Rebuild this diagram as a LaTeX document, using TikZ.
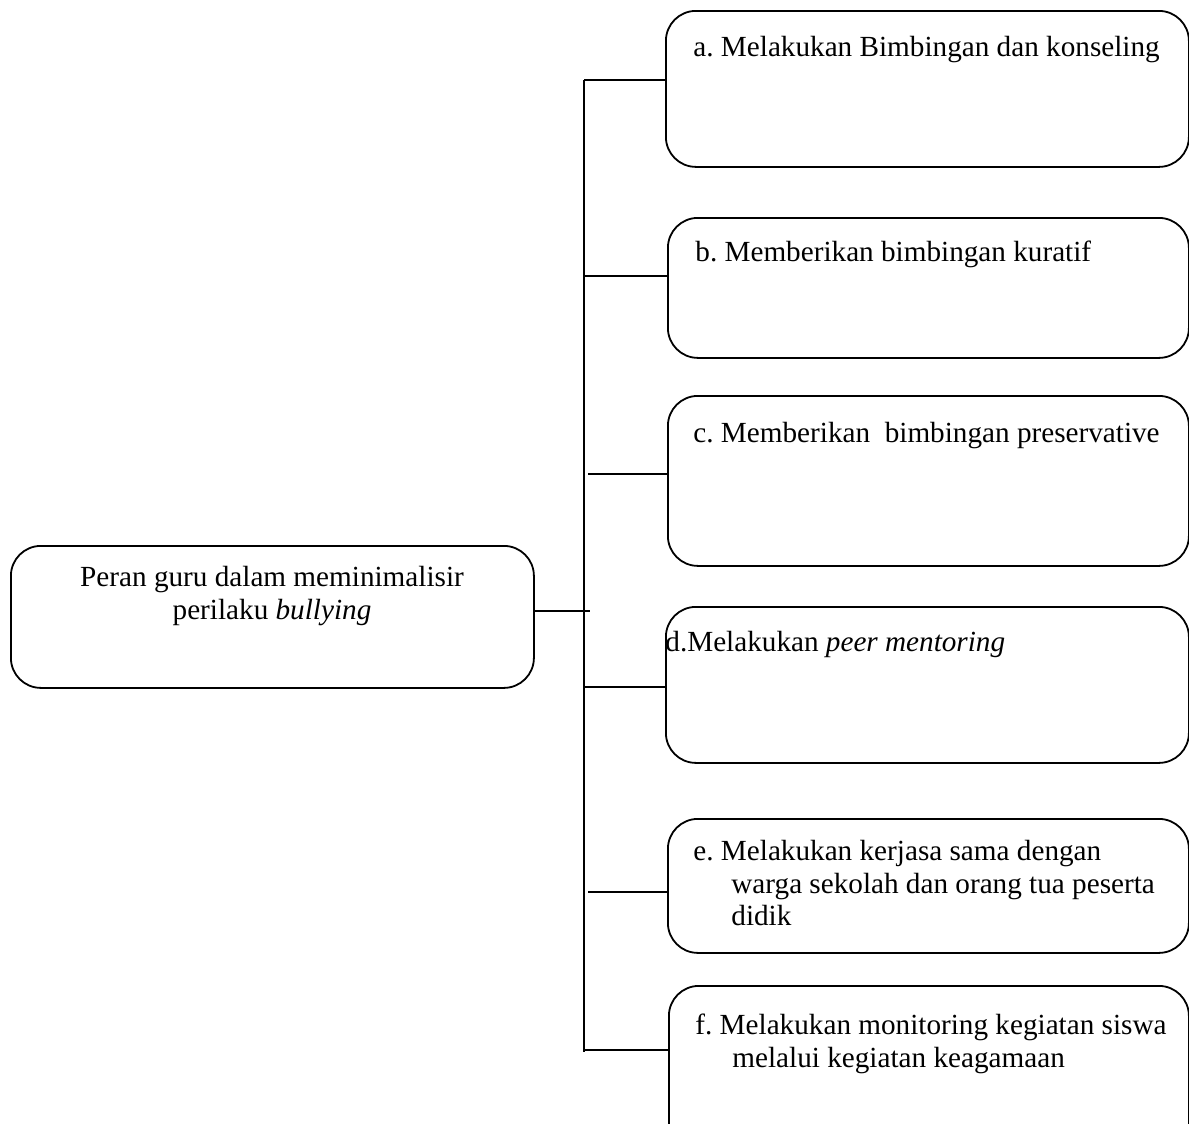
\documentclass[tikz,border=0pt]{standalone}
\usepackage{fontspec}
\setmainfont{Liberation Serif}
\usetikzlibrary{positioning}
\frenchspacing
\tikzset{
  kotak/.style={draw, rounded corners=15pt, line width=0.9pt, inner sep=0pt,
                anchor=north west},
  teks/.style={inner sep=0pt, align=left, font=\fontsize{14.6}{16.2}\selectfont},
  garis/.style={line width=0.9pt}
}

\begin{document}
\begin{tikzpicture}[x=0.5pt, y=-0.5pt]
    \useasboundingbox (0,0) rectangle (1189,1124);
    \clip (0,0) rectangle (1189,1124);
    % kotak utama
    \node[kotak, minimum width=261.5pt, minimum height=71pt] (peran) at (10,545) {};
    \node[teks, align=center, anchor=north] (tperan) at (272,566)
          {Peran guru dalam meminimalisir\\perilaku \textit{bullying}};
    % kotak peran
    \node[kotak, minimum width=261.5pt, minimum height=78pt] (ba) at (665,10) {};
    \node[kotak, minimum width=260.5pt, minimum height=70pt] (bb) at (667,217) {};
    \node[kotak, minimum width=260.5pt, minimum height=85pt] (bc) at (667,395) {};
    \node[kotak, minimum width=261.5pt, minimum height=78pt] (bd) at (665,606) {};
    \node[kotak, minimum width=260.5pt, minimum height=67pt] (be) at (667,818) {};
    \node[kotak, minimum width=260pt, minimum height=85pt] (bf) at (668,985) {};
    \node[teks, anchor=base west] (ta) at (693,56) {a. Melakukan Bimbingan dan konseling};
    \node[teks, anchor=base west] (tb) at (695,261) {b. Memberikan bimbingan kuratif};
    \node[teks, anchor=base west] (tc) at (693,442) {c. Memberikan\ \ bimbingan preservative};
    \node[teks, anchor=base west] (td) at (665,651) {d.Melakukan \textit{peer mentoring}};
    \node[teks, anchor=north west] (te) at (693,840)
          {e. Melakukan kerjasa sama dengan\\\hspace*{19pt}warga sekolah dan orang tua peserta\\\hspace*{19pt}didik};
    \node[teks, anchor=north west] (tf) at (695,1014)
          {f. Melakukan monitoring kegiatan siswa\\\hspace*{18.5pt}melalui kegiatan keagamaan};
    % garis penghubung
    \coordinate (atas) at (584,80);
    \coordinate (bawah) at (584,1052);
    \coordinate (cabang) at (590,611);
    \draw[garis] (atas) -- (bawah);
    \draw[garis] (peran.east |- cabang) -- (cabang);
    \draw[garis] (atas) -- (atas -| ba.west);
    \draw[garis] (584,276) coordinate (jb) -- (jb -| bb.west);
    \draw[garis] (588,474) coordinate (jc) -- (jc -| bc.west);
    \draw[garis] (584,687) coordinate (jd) -- (jd -| bd.west);
    \draw[garis] (588,892) coordinate (je) -- (je -| be.west);
    \draw[garis] (584,1050) coordinate (jf) -- (jf -| bf.west);
\end{tikzpicture}
\end{document}
